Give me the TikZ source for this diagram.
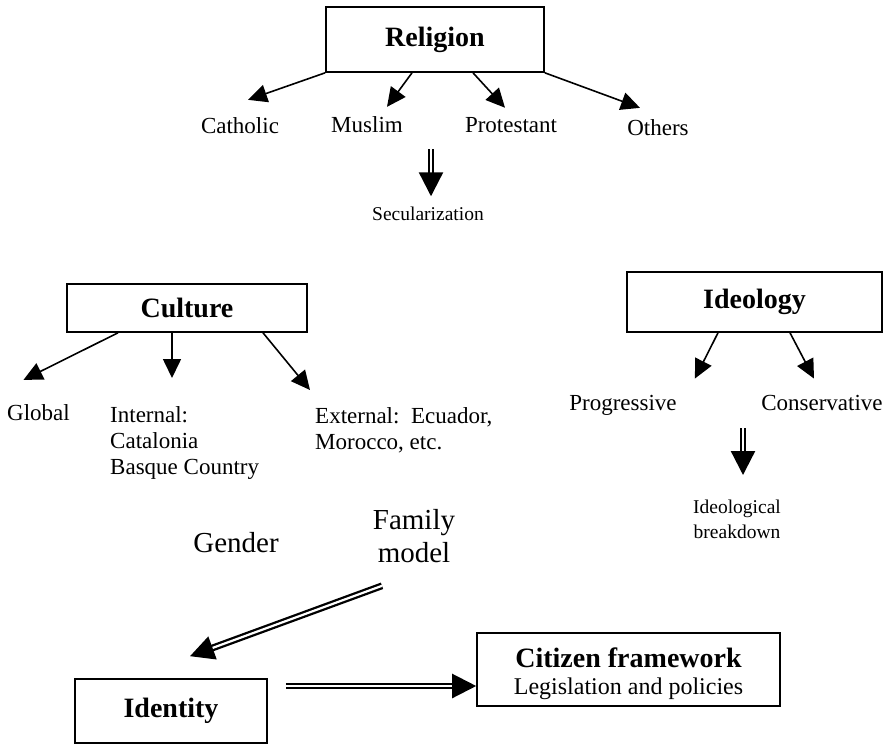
\documentclass[tikz,border=0pt]{standalone}
\usepackage{fontspec}
\setmainfont{Liberation Serif}
\usetikzlibrary{arrows.meta}

\begin{document}
\begin{tikzpicture}[x=1pt,y=-1pt,
  box/.style={draw, line width=1.6pt, font=\fontsize{28}{30}\selectfont\bfseries},
  lab/.style={inner sep=0pt, font=\fontsize{23}{26}\selectfont},
  note/.style={inner sep=0pt, font=\fontsize{19.5}{25}\selectfont},
  big/.style={inner sep=0pt, font=\fontsize{29}{33}\selectfont},
  arr/.style={line width=1.6pt, -{Triangle[length=19pt,width=18pt]}},
  dbl/.style={double, line width=2.3pt, double distance=2.2pt, -{Triangle[length=24pt,width=24pt]}}]
\useasboundingbox (0,0) rectangle (888,744);

\node[box, minimum width=218pt, minimum height=65pt] (religion) at (435,39.5) {Religion};
\node[lab, anchor=base] (catholic) at (240,133) {Catholic};
\node[lab, anchor=base] (muslim) at (367,132) {Muslim};
\node[lab, anchor=base] (protestant) at (511,132) {Protestant};
\node[lab, anchor=base] (others) at (658,135) {Others};
\node[note, anchor=base] (secular) at (428,220) {Secularization};

\node[box, minimum width=240pt, minimum height=48pt] (culture) at (187,308) {Culture};
\node[lab, anchor=base west] (global) at (7,420) {Global};
\node[lab, anchor=north west, align=left] (internal) at (110,406) {Internal:\\Catalonia\\Basque Country};
\node[lab, anchor=north west, align=left] (external) at (315,407) {External:\ \ Ecuador,\\Morocco, etc.};

\node[box, minimum width=255pt, minimum height=60pt] (ideology) at (754.5,302) {Ideology};
\node[lab, anchor=base] (progressive) at (623,410) {Progressive};
\node[lab, anchor=base] (conservative) at (822,410) {Conservative};
\node[note, anchor=north, align=center] (breakdown) at (737,500) {Ideological\\breakdown};

\node[big, anchor=base] (gender) at (236,552) {Gender};
\node[big, anchor=north, align=center] (family) at (414,509) {Family\\model};
\node[box, minimum width=192pt, minimum height=64pt] (identity) at (171,711) {Identity};
\node[box, font=\fontsize{24}{27}\selectfont, minimum width=303pt, minimum height=73pt, align=center] (citizen) at (628.5,669.5) {\rule{0pt}{29pt}{\fontsize{28}{30}\selectfont\bfseries Citizen framework}\\Legislation and policies};

\draw[arr] (religion.south west) -- ([xshift=8pt,yshift=17pt]catholic.north);
\draw[arr] ([xshift=-23pt]religion.south) -- ([xshift=20pt,yshift=9pt]muslim.north);
\draw[arr] ([xshift=38pt]religion.south) -- ([xshift=-6pt,yshift=9pt]protestant.north);
\draw[arr] (religion.south east) -- ([xshift=-18pt,yshift=11pt]others.north);
\draw[dbl] ([xshift=3pt,yshift=57pt]secular.north) -- ([xshift=3pt,yshift=10pt]secular.north);

\draw[arr] ([xshift=-69pt]culture.south) -- ([xshift=-15pt,yshift=24pt]global.north);
\draw[arr] ([xshift=-15pt]culture.south) -- ([xshift=62pt,yshift=28pt]internal.north west);
\draw[arr] ([xshift=76pt]culture.south) -- ([xshift=-5pt,yshift=17pt]external.north west);

\draw[arr] ([xshift=-36.5pt]ideology.south) -- ([xshift=18pt,yshift=16pt]progressive.north east);
\draw[arr] ([xshift=35.5pt]ideology.south) -- ([xshift=-8pt,yshift=16pt]conservative.north);
\draw[dbl] ([xshift=6pt,yshift=72pt]breakdown.north) -- ([xshift=6pt,yshift=25pt]breakdown.north);

\draw[dbl] ([xshift=-32pt,yshift=-23pt]family.south) -- ([xshift=19pt,yshift=22pt]identity.north);
\draw[dbl] ([xshift=18pt,yshift=25pt]identity.east) -- ([yshift=-16.5pt]citizen.west);
\end{tikzpicture}
\end{document}
